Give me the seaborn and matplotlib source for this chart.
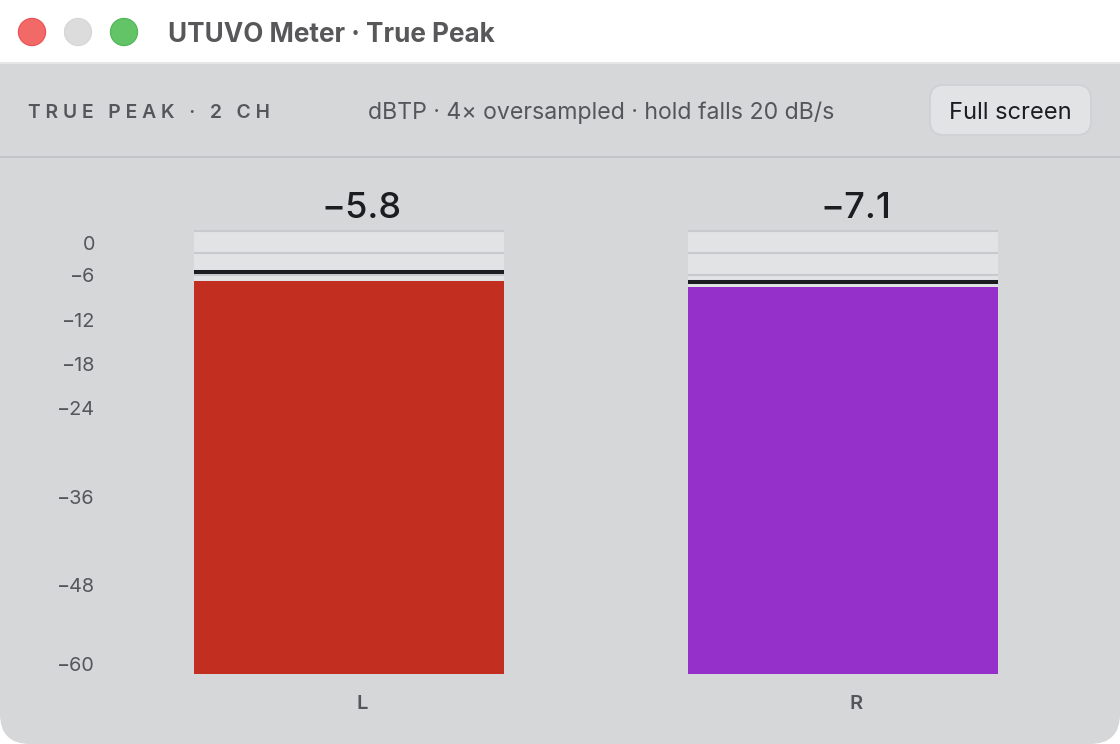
import matplotlib
matplotlib.use("Agg")
import matplotlib.pyplot as plt
from matplotlib.patches import Circle, FancyBboxPatch, Rectangle
from matplotlib.transforms import ScaledTranslation
import pandas as pd
import seaborn as sns

channels = ["L", "R"]
levels = [-6.8, -7.55]
holds = [-5.5, -6.85]
readouts = ["\u22125.8", "\u22127.1"]
bar_colors = ["#C22E20", "#9530CB"]
ticks = [0, -6, -12, -18, -24, -36, -48, -60]
grid_db = [0, -3, -6, -12, -18, -24, -36, -48]
FLOOR = -60

PANEL = "#D6D7D9"
TRACK = "#E2E3E5"
GRID = "#C9CACD"
INK = "#1C1D20"
MUTED = "#55565B"
BAR_W = 310 / 494
LABEL_SHIFT = 13  # channel labels sit right of the bar centre, px

sns.set_theme(style="white")
plt.rcParams["font.family"] = ["Inter", "DejaVu Sans"]

df = pd.DataFrame({"channel": channels, "height": [v - FLOOR for v in levels]})
df["track"] = -FLOOR

fig = plt.figure(figsize=(11.2, 7.44), dpi=100, facecolor="white")

# window chrome, in pixel coordinates
bg = fig.add_axes([0, 0, 1, 1], zorder=0)
bg.set_xlim(0, 1120); bg.set_ylim(744, 0); bg.axis("off")
bg.add_patch(FancyBboxPatch((0, 20), 1120, 724, boxstyle="round,pad=0,rounding_size=30",
                            fc=PANEL, ec="none"))
bg.add_patch(Rectangle((0, 0), 1120, 62, fc="white", ec="none"))
bg.add_patch(Rectangle((0, 62), 1120, 2, fc="#E6E6E7", ec="none"))
bg.add_patch(Rectangle((0, 156), 1120, 2, fc="#C4C5C8", ec="none"))
for cx, fc, ec in [(32, "#F26A68", "#EA4F4C"), (78, "#DCDCDC", "#D6D6D6"), (124, "#62C466", "#4DB554")]:
    bg.add_patch(Circle((cx, 32), 13.6, fc=fc, ec=ec, lw=0.8))
bg.text(168, 35, "UTUVO Meter \u00b7 True Peak", fontsize=18.8, fontweight="bold",
        color="#58585A", va="center", ha="left")
hair = "\u200a" * 3
bg.text(28, 112.5, hair.join("TRUE PEAK \u00b7 2 CH"),
        fontsize=13.9, fontweight="semibold", color=MUTED, va="center", ha="left")
bg.text(601, 113, "dBTP \u00b7 4\u00d7 oversampled \u00b7 hold falls 20 dB/s", fontsize=16.65,
        color=MUTED, va="center", ha="center")
bg.add_patch(FancyBboxPatch((930, 85), 161, 50, boxstyle="round,pad=0,rounding_size=14",
                            fc=TRACK, ec="#CFD0D3", lw=1.2))
bg.text(1010, 113, "Full screen", fontsize=17, color=INK, va="center", ha="center")

# meter
ax = fig.add_axes([102 / 1120, 70 / 744, 988 / 1120, 443 / 744], zorder=1)
ax.patch.set_alpha(0)
sns.barplot(data=df, x="channel", y="track", color=TRACK, saturation=1, width=BAR_W,
            linewidth=0, zorder=1, ax=ax)
sns.barplot(data=df, x="channel", y="height", hue="channel", palette=bar_colors, saturation=1,
            width=BAR_W, linewidth=0, legend=False, zorder=3, ax=ax)
ax.set_xlim(-0.5, 1.5)
ax.set_ylim(0, -FLOOR)
ax.set_xlabel(""); ax.set_ylabel("")
sns.despine(ax=ax, left=True, bottom=True)

for i in range(len(channels)):
    x0, x1 = i - BAR_W / 2, i + BAR_W / 2
    ax.hlines([d - FLOOR for d in grid_db], x0, x1, color=GRID, lw=1.5, zorder=2, clip_on=False)
    ax.hlines(holds[i] - FLOOR, x0, x1, color=INK, lw=2.9, zorder=4)
    ax.annotate(readouts[i], xy=(i, 1), xycoords=ax.get_xaxis_transform(),
                xytext=(LABEL_SHIFT, 23), textcoords="offset pixels",
                fontsize=26, fontweight="medium", color=INK, ha="center", va="center")

ax.set_yticks([t - FLOOR for t in ticks], [str(t).replace("-", "\u2212") for t in ticks])
ax.tick_params(axis="y", length=0, pad=5, labelsize=14.3, labelcolor=MUTED)
ax.tick_params(axis="x", length=0, pad=15, labelsize=14.5, labelcolor=MUTED)
for lab in ax.get_xticklabels():
    lab.set_fontweight("semibold")
    lab.set_transform(lab.get_transform() + ScaledTranslation(LABEL_SHIFT / 100, 0, fig.dpi_scale_trans))

# end labels sit inside the scale
ylabs = ax.get_yticklabels()
ylabs[0].set_transform(ylabs[0].get_transform() + ScaledTranslation(0, -12 / 100, fig.dpi_scale_trans))
ylabs[-1].set_transform(ylabs[-1].get_transform() + ScaledTranslation(0, 10 / 100, fig.dpi_scale_trans))

fig.savefig("out.png", dpi=100, facecolor="white")
